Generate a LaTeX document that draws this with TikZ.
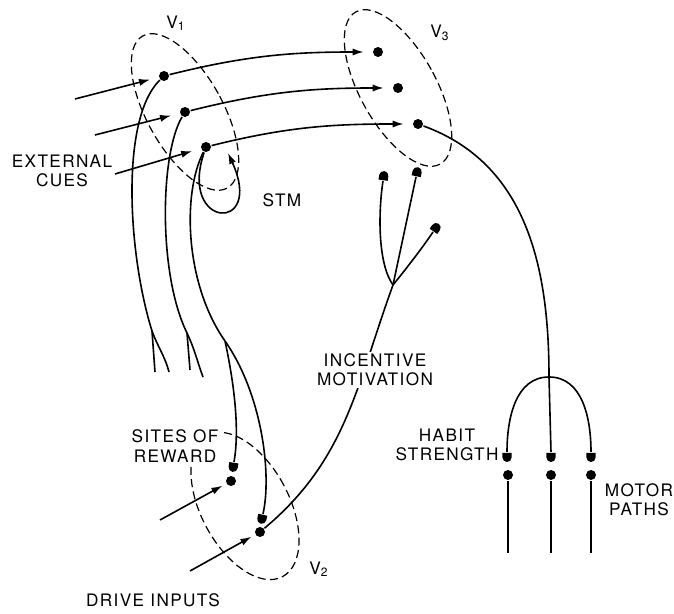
\documentclass[tikz,border=0pt]{standalone}
\usepackage{fontspec}
\newfontfamily\cuefont[LetterSpace=8]{TeX Gyre Heros}
\usetikzlibrary{positioning,arrows.meta,shapes.misc}
\tikzset{
cell/.style={
  circle,
  fill,
  inner sep=0pt,
  minimum size=5pt
  },
knob/.style={
  rounded rectangle,
  rounded rectangle east arc=none,
  fill,
  inner sep=0pt,
  minimum width=4.6pt,
  minimum height=4.6pt,
  anchor=east,
  rotate=#1
  },
knob/.default=0,
pool/.style={
  draw,
  line width=0.6pt,
  dash pattern=on 4pt off 2.2pt
  },
tag/.style={
  font=\cuefont\fontsize{8.6}{9.6}\selectfont,
  align=center,
  inner sep=1pt
  }
}

\begin{document}
\begin{tikzpicture}[>={Latex[length=5.5pt,width=3.6pt]},x=0.5pt,y=0.5pt,line width=0.8pt]
\useasboundingbox (0,0) rectangle (674,614);

\node[cell] (A) at (164,538) {};
\node[cell] (B) at (185,502) {};
\node[cell] (C) at (206,467) {};
\node[cell] (D1) at (378,562) {};
\node[cell] (D2) at (398,526) {};
\node[cell] (D3) at (418,490) {};
\node[cell] (E1) at (231,133) {};
\node[cell] (E2) at (260,82) {};
\node[cell] (M1) at (508,139) {};
\node[cell] (M2) at (551,139) {};
\node[cell] (M3) at (591,139) {};

\node[knob=81] (K1) at (234,152) {};
\node[knob=77] (K2) at (263,100) {};
\node[knob=-98] (N1) at (383,433) {};
\node[knob=-102] (N2) at (416,437) {};
\node[knob=-125] (N3) at (433,382) {};
\node[knob=90] (H1) at (507,162) {};
\node[knob=90] (H2) at (551,162) {};
\node[knob=90] (H3) at (591,162) {};

\coordinate (c1) at (75,515);
\coordinate (c2) at (95,479);
\coordinate (c3) at (115,440);
\coordinate (d1) at (160,94);
\coordinate (d2) at (190,43);
\coordinate (stm) at (228,461);
\coordinate (S1) at (152,283);
\coordinate (S2) at (187,281);
\coordinate (S3) at (225,273);
\coordinate (e1a) at (155,242);
\coordinate (e1b) at (169,242);
\coordinate (e2a) at (190,244);
\coordinate (e2b) at (203,237);
\coordinate (J) at (393,329);
\coordinate (T) at (549,237);
\coordinate (m1) at (508,61);
\coordinate (m2) at (551,61);
\coordinate (m3) at (591,61);
\coordinate (pool2) at (245,108);

\draw[pool] (B) ellipse [x radius=38,y radius=87,rotate=29];
\draw[pool] (D2) ellipse [x radius=38,y radius=87,rotate=29];
\draw[pool] (pool2) ellipse [x radius=44,y radius=80,rotate=28];

\begin{scope}[shorten >=4.3pt]
\draw[->] (c1) -- (A);
\draw[->] (c2) -- (B);
\draw[->] (c3) -- (C);
\draw[->] (A) to[out=14,in=180] (D1);
\draw[->] (B) to[out=14,in=180] (D2);
\draw[->] (C) to[out=14,in=180] (D3);
\end{scope}

\draw (A) .. controls (120,495) and (128,360) .. (S1);
\draw (S1) -- (e1a);
\draw (S1) to[out=-70,in=105] (e1b);
\draw (B) .. controls (160,460) and (158,340) .. (S2);
\draw (S2) -- (e2a);
\draw (S2) to[out=-65,in=110] (e2b);
\draw (C) .. controls (182,420) and (185,330) .. (S3);
\draw (S3) .. controls (236,222) and (239,180) .. (K1.east);
\draw (S3) .. controls (262,220) and (272,140) .. (K2.east);
\draw[->] (C) .. controls (178,385) and (265,380) .. (stm);

\draw[->,shorten >=2pt] (d1) -- (E1);
\draw[->,shorten >=2pt] (d2) -- (E2);

\draw (E2) to[out=40,in=250] (J);
\draw (J) .. controls (378,350) and (378,400) .. (N1.east);
\draw (J) -- (N2.east);
\draw (J) .. controls (410,350) and (425,370) .. (N3.east);

\draw (D3) to[out=-20,in=90] (T);
\draw (T) -- (H2.east);
\draw (T) to[out=180,in=90] (H1.east);
\draw (T) to[out=0,in=90] (H3.east);
\draw (M1) -- (m1);
\draw (M2) -- (m2);
\draw (M3) -- (m3);

\node[tag] (cues) at (62,443) {EXTERNAL\\CUES};
\node[tag] (stmtag) at (282,414) {STM};
\node[tag] (v1) at (176,591) {V\textsubscript{1}};
\node[tag] (v3) at (440,581) {V\textsubscript{3}};
\node[tag] (v2) at (319,45) {V\textsubscript{2}};
\node[tag,fill=white] (incentive) at (375,244) {INCENTIVE\\MOTIVATION};
\node[tag] (habit) at (447,169) {HABIT\\STRENGTH};
\node[tag] (motor) at (639,114) {MOTOR\\PATHS};
\node[tag,fill=white] (reward) at (175,168) {SITES OF\\REWARD};
\node[tag] (drive) at (153,14) {DRIVE INPUTS};
\end{tikzpicture}
\end{document}
